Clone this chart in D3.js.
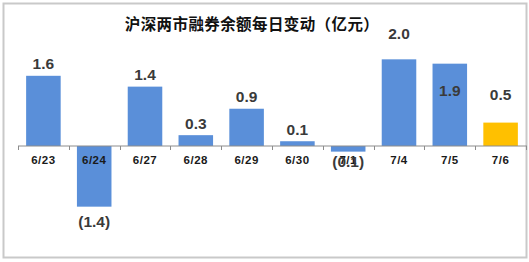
<!DOCTYPE html>
<html>
<head>
<meta charset="utf-8">
<script src="https://cdn.jsdelivr.net/npm/d3@7"></script>
<style>
  html, body { margin: 0; padding: 0; background: #fff; }
  svg { display: block; }
</style>
</head>
<body>
<div id="chart"></div>
<script>
"use strict";

// data (亿元)
var dates = ["6/23", "6/24", "6/27", "6/28", "6/29", "6/30", "7/1", "7/4", "7/5", "7/6"];
var changes = [1.62, -1.40, 1.37, 0.25, 0.86, 0.11, -0.13, 2.0, 1.9, 0.54];
var chartTitle = "沪深两市融券余额每日变动（亿元）";

var W = 529, H = 262;
var blue = "#5a8fd9", gold = "#ffc000";

// labels the original author dragged around by hand (px, from default spot)
var labelNudge = { "7/1": -5, "7/4": -14, "7/5": 39, "7/6": -16 };

var svg = d3.select("#chart").append("svg")
	.attr("width", W)
	.attr("height", H);

svg.append("rect")
	.attr("x", 3.5).attr("y", 3.5)
	.attr("width", 523).attr("height", 254)
	.attr("fill", "#fff")
	.attr("stroke", "#c9c9c9")
	.attr("stroke-width", 2);

svg.append("text")
	.attr("x", 252)
	.attr("y", 30)
	.attr("text-anchor", "middle")
	.style("font-family", "'Noto Sans CJK SC', sans-serif")
	.style("font-size", "15.5px")
	.style("font-weight", "bold")
	.style("letter-spacing", "0.4px")
	.attr("fill", "#111")
	.text(chartTitle);

var x = d3.scaleBand()
	.domain(dates)
	.range([18, 526])
	.paddingInner(0.32)
	.paddingOuter(0.16);

var y = d3.scaleLinear()
	.domain([-2.4, 3])
	.range([250, 16]);

var y0 = y(0);

// bars
svg.selectAll(".bar")
	.data(dates)
	.enter().append("rect")
	.attr("class", "bar")
	.attr("x", function (d) { return x(d); })
	.attr("width", x.bandwidth())
	.attr("y", function (d, i) { return Math.min(y(changes[i]), y0); })
	.attr("height", function (d, i) { return Math.abs(y(changes[i]) - y0); })
	.attr("fill", function (d, i) { return i === dates.length - 1 ? gold : blue; });

// axis line + ticks between categories
var axis = svg.append("g").attr("transform", "translate(0," + y0 + ")");
axis.append("line")
	.attr("x1", 18).attr("x2", 527)
	.attr("stroke", "#8c8c8c").attr("stroke-width", 1);
var bounds = dates.map(function (d) { return x(d) - x.step() * x.paddingInner() / 2; });
bounds.push(x.range()[1]);
axis.selectAll(".tick")
	.data(bounds)
	.enter().append("line")
	.attr("x1", function (d) { return Math.round(d) + 0.5; })
	.attr("x2", function (d) { return Math.round(d) + 0.5; })
	.attr("y1", 0).attr("y2", 4)
	.attr("stroke", "#8c8c8c");

// category labels
svg.selectAll(".cat")
	.data(dates)
	.enter().append("text")
	.attr("class", "cat")
	.attr("x", function (d) { return x(d) + x.bandwidth() / 2; })
	.attr("y", y0 + 18)
	.attr("text-anchor", "middle")
	.style("font-family", "Arial, 'Liberation Sans', sans-serif")
	.style("font-size", "11.5px")
	.style("font-weight", "bold")
	.style("letter-spacing", "0.5px")
	.attr("fill", "#1a1a1a")
	.text(function (d) { return d; });

// value labels
var fmt = d3.format(".1f");
svg.selectAll(".val")
	.data(dates)
	.enter().append("text")
	.attr("class", "val")
	.attr("x", function (d) { return x(d) + x.bandwidth() / 2; })
	.attr("y", function (d, i) {
		var v = changes[i];
		var c = v >= 0 ? y(v) - 12 : y(v) + 15;
		return c + (labelNudge[d] || 0) + 5.5;
	})
	.attr("text-anchor", "middle")
	.style("font-family", "Arial, 'Liberation Sans', sans-serif")
	.style("font-size", "15.5px")
	.style("font-weight", "bold")
	.attr("fill", "#3a3a3a")
	.text(function (d, i) {
		var v = changes[i];
		return v < 0 ? "(" + fmt(-v) + ")" : fmt(v);
	});
</script>
</body>
</html>
